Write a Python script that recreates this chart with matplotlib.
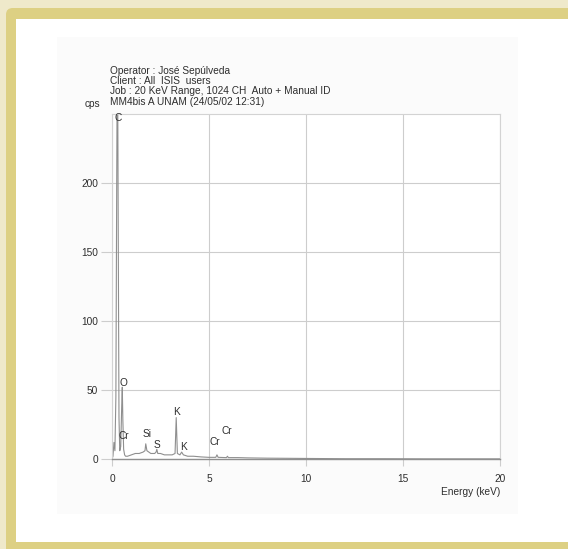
import matplotlib
matplotlib.use("Agg")
import matplotlib.pyplot as plt
from matplotlib.patches import Rectangle, FancyBboxPatch

plt.rcParams['font.family'] = ['Liberation Sans', 'DejaVu Sans']

# EDS spectrum, energy in keV and counts per second
energy = [0.0, 0.05, 0.1, 0.15, 0.2, 0.24, 0.28, 0.32, 0.36, 0.4, 0.45, 0.5,
          0.53, 0.56, 0.6, 0.65, 0.7, 0.8, 1.0, 1.2, 1.4, 1.6, 1.7, 1.74, 1.8,
          1.9, 2.0, 2.2, 2.27, 2.31, 2.36, 2.5, 2.7, 2.9, 3.1, 3.25, 3.31, 3.37,
          3.5, 3.59, 3.68, 3.9, 4.2, 4.6, 5.0, 5.35, 5.41, 5.47, 5.9, 5.95,
          6.0, 6.5, 7.0, 8.0, 9.0, 10.0, 11.0, 12.0, 14.0, 16.0, 18.0, 20.0]
counts = [0, 2, 12, 6, 45, 190, 320, 170, 30, 6, 9, 38,
          52, 28, 7, 3, 2, 2, 3, 4, 4, 5, 6, 11, 6,
          5, 4, 4, 5, 7, 4, 4, 3, 3, 3, 4, 30, 4,
          3, 5, 3, 2, 2, 1.5, 1.2, 1.2, 3, 1.2, 1, 2,
          1, 1, 0.8, 0.6, 0.5, 0.4, 0.3, 0.2, 0.2, 0.1, 0.1, 0.1]

# element identifications: symbol, label energy, label height (cps)
elements = ['C', 'O', 'Cr', 'Si', 'S', 'K', 'K', 'Cr', 'Cr']
label_e = [0.32, 0.57, 0.62, 1.8, 2.3, 3.3, 3.66, 5.3, 5.93]
label_y = [247, 55, 16.5, 18, 10, 34, 8.5, 12.5, 20.5]

header = ["Operator : José Sepúlveda",
          "Client : All  ISIS  users",
          "Job : 20 KeV Range, 1024 CH  Auto + Manual ID",
          "MM4bis A UNAM (24/05/02 12:31)"]

W, H = 568, 549
FS = 7.3
TXT = '#2e2e2e'

fig = plt.figure(figsize=(W / 100, H / 100), dpi=100)
fig.patch.set_facecolor('#efe9ca')

# gold frame, white page and the faint scanned sheet, all behind the axes
fig.patches.append(FancyBboxPatch((6 / W, -0.05), 1.2, (H - 8) / H + 0.05,
                                  boxstyle="round,pad=0,rounding_size=0.012",
                                  transform=fig.transFigure, fc='#ddd083', ec='none',
                                  zorder=-10))
fig.patches.append(Rectangle((16 / W, (H - 542) / H), 1, (542 - 19) / H,
                             transform=fig.transFigure, fc='white', ec='none', zorder=-9))
fig.patches.append(Rectangle((57 / W, (H - 514) / H), (518 - 57) / W, (514 - 37) / H,
                             transform=fig.transFigure, fc='#fbfbfb', ec='none', zorder=-8))

ax = fig.add_axes([112 / W, (H - 459) / H, 388 / W, 345 / H])
ax.set_facecolor('white')
ax.plot(energy, counts, color='#8f8f8f', lw=0.8)

ax.set_xlim(0, 20)
ax.set_ylim(0, 250)
ax.set_xticks([0, 5, 10, 15, 20])
ax.set_yticks([0, 50, 100, 150, 200])
ax.grid(True, color='#cdcdcd', lw=0.8)
ax.set_axisbelow(True)
ax.tick_params(axis='y', length=8, width=0.8, color='#cdcdcd', labelsize=FS,
               labelcolor=TXT, pad=2)
ax.tick_params(axis='x', length=5, width=0.8, color='#cdcdcd', labelsize=FS,
               labelcolor=TXT, pad=6)
for side in ['top', 'right', 'left']:
    ax.spines[side].set_color('#d3d3d3')
    ax.spines[side].set_linewidth(0.8)
ax.spines['bottom'].set_color('#8f8f8f')
ax.spines['bottom'].set_linewidth(1.0)

for sym, e, y in zip(elements, label_e, label_y):
    ax.text(e, y, sym, ha='center', va='center', fontsize=FS, color=TXT)

ax.text(1.0, -0.095, "Energy (keV)", transform=ax.transAxes, ha='right', va='center',
        fontsize=FS, color=TXT)
fig.text(85 / W, 1 - 104 / H, "cps", ha='left', va='center', fontsize=FS, color=TXT)
for i, line in enumerate(header):
    fig.text(110 / W, 1 - (71 + 10.2 * i) / H, line, ha='left', va='center',
             fontsize=FS, color=TXT)

fig.savefig("out.png", dpi=100, facecolor=fig.get_facecolor())
